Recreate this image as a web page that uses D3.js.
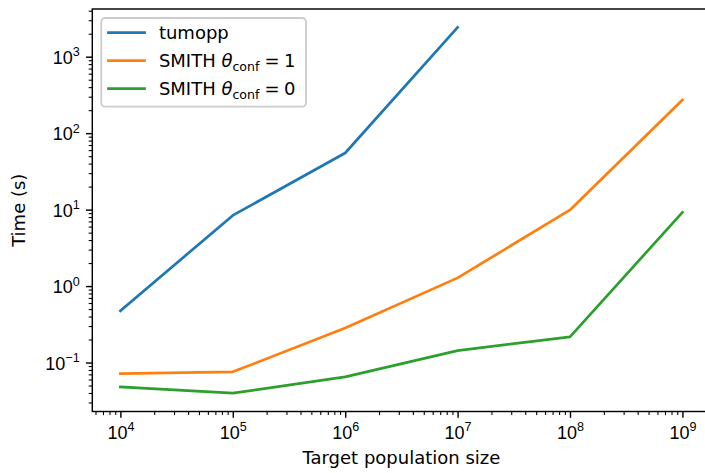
<!DOCTYPE html>
<html>
<head>
<meta charset="utf-8">
<script src="https://cdn.jsdelivr.net/npm/d3@7"></script>
<style>
  html, body { margin: 0; padding: 0; background: #fff; }
  svg { display: block; font-family: "DejaVu Sans", sans-serif; }
</style>
</head>
<body>
<svg id="chart" width="705" height="473"></svg>
<script>
// Target population sizes (x) and run times in seconds (y)
const popSizes = [1e4, 1e5, 1e6, 1e7, 1e8, 1e9];
const tumoppTimes = [0.475, 8.4, 55, 2425];
const smith1Times = [0.0718, 0.0755, 0.282, 1.28, 9.9, 272];
const smith0Times = [0.048, 0.0397, 0.065, 0.143, 0.217, 9.2];
const seriesNames = ["tumopp", "SMITH", "SMITH"];
const seriesConf = [null, "1", "0"];
const seriesColors = ["#1f77b4", "#ff7f0e", "#2ca02c"];
const xTickExps = [4, 5, 6, 7, 8, 9];
const yTickExps = [-1, 0, 1, 2, 3];

const series = [tumoppTimes, smith1Times, smith0Times].map((ys, i) => ({
  name: seriesNames[i],
  conf: seriesConf[i],
  color: seriesColors[i],
  points: ys.map((v, j) => ({ x: popSizes[j], y: v }))
}));

const svg = d3.select("#chart");
const fs = 18;            // base font size (px)
const pt = fs / 10;       // px per point
const plotLeft = 92.3, plotTop = 9, plotW = 618.2, plotBottom = 411.5;

// log-space 5% margins, like an autoscaled log axis
function logDomain(vals) {
  const l = vals.map(Math.log10);
  const lo = d3.min(l), hi = d3.max(l), m = 0.05 * (hi - lo);
  return [Math.pow(10, lo - m), Math.pow(10, hi + m)];
}
const allY = series.flatMap(s => s.points.map(p => p.y));
const x = d3.scaleLog().domain(logDomain(popSizes)).range([plotLeft, plotLeft + plotW]);
const y = d3.scaleLog().domain(logDomain(allY)).range([plotBottom, plotTop]);

function minorTicks(scale) {
  const [a, b] = scale.domain();
  const out = [];
  for (let e = Math.floor(Math.log10(a)); e <= Math.ceil(Math.log10(b)); e++) {
    for (let m = 2; m <= 9; m++) {
      const v = m * Math.pow(10, e);
      if (v >= a && v <= b) out.push(v);
    }
  }
  return out;
}

const majorLen = 3.5 * pt, minorLen = 2 * pt, tickPad = 3.5 * pt;

// x axis: minor and major ticks
const gxMinor = svg.append("g").attr("transform", `translate(0,${plotBottom})`)
  .call(d3.axisBottom(x).tickValues(minorTicks(x)).tickSize(minorLen).tickFormat(() => ""));
const gx = svg.append("g").attr("transform", `translate(0,${plotBottom})`)
  .call(d3.axisBottom(x).tickValues(xTickExps.map(e => Math.pow(10, e)))
    .tickSize(majorLen).tickPadding(tickPad).tickFormat(() => ""));

// y axis: minor and major ticks
const gyMinor = svg.append("g").attr("transform", `translate(${plotLeft},0)`)
  .call(d3.axisLeft(y).tickValues(minorTicks(y)).tickSize(minorLen).tickFormat(() => ""));
const gy = svg.append("g").attr("transform", `translate(${plotLeft},0)`)
  .call(d3.axisLeft(y).tickValues(yTickExps.map(e => Math.pow(10, e)))
    .tickSize(majorLen).tickPadding(tickPad).tickFormat(() => ""));

[gxMinor, gx, gyMinor, gy].forEach(g => {
  g.select(".domain").remove();
  g.selectAll(".tick line").attr("stroke", "#000");
});
[gxMinor, gyMinor].forEach(g => g.selectAll(".tick line").attr("stroke-width", 0.6 * pt));
[gx, gy].forEach(g => g.selectAll(".tick line").attr("stroke-width", 0.8 * pt));

// power-of-ten labels with superscript exponent
function powerLabel(textSel, exp) {
  textSel.text(null).attr("fill", "#000").attr("font-size", fs);
  textSel.append("tspan").text("10");
  textSel.append("tspan").attr("font-size", fs * 0.7).attr("dy", -7.5)
    .text(exp < 0 ? "\u2212" + Math.abs(exp) : String(exp));
}
gx.selectAll(".tick text").each(function(d) {
  const t = d3.select(this).attr("dy", null).attr("y", 438.7 - plotBottom)
    .attr("text-anchor", "middle");
  powerLabel(t, Math.round(Math.log10(d)));
});
gy.selectAll(".tick text").each(function(d) {
  const t = d3.select(this).attr("dy", null).attr("y", 6.6)
    .attr("x", -(majorLen + tickPad)).attr("text-anchor", "end");
  powerLabel(t, Math.round(Math.log10(d)));
});

// data lines
const line = d3.line().x(d => x(d.x)).y(d => y(d.y));
svg.append("clipPath").attr("id", "plotclip").append("rect")
  .attr("x", plotLeft).attr("y", plotTop).attr("width", plotW).attr("height", plotBottom - plotTop);
svg.append("g").attr("clip-path", "url(#plotclip)")
  .selectAll("path").data(series).join("path")
  .attr("d", d => line(d.points))
  .attr("fill", "none")
  .attr("stroke", d => d.color)
  .attr("stroke-width", 1.5 * pt)
  .attr("stroke-linecap", "square")
  .attr("stroke-linejoin", "round");

// frame
svg.append("rect")
  .attr("x", plotLeft).attr("y", plotTop).attr("width", plotW).attr("height", plotBottom - plotTop)
  .attr("fill", "none").attr("stroke", "#000").attr("stroke-width", 0.8 * pt);

// axis titles
svg.append("text").attr("x", plotLeft + plotW / 2).attr("y", 464)
  .attr("text-anchor", "middle").attr("font-size", fs).attr("fill", "#000")
  .text("Target population size");
svg.append("text")
  .attr("transform", `translate(24.6,${(plotTop + plotBottom) / 2}) rotate(-90)`)
  .attr("text-anchor", "middle").attr("font-size", fs).attr("fill", "#000")
  .text("Time (s)");

// legend
const lg = svg.append("g");
const lgX = plotLeft + 0.5 * fs, lgY = plotTop + 0.5 * fs;
lg.append("rect")
  .attr("x", lgX).attr("y", lgY)
  .attr("width", 306 - lgX).attr("height", 106.7 - lgY)
  .attr("rx", 4).attr("ry", 4)
  .attr("fill", "#fff").attr("fill-opacity", 0.8)
  .attr("stroke", "#cccccc").attr("stroke-width", 1 * pt);
const rowY = [32.7, 60.7, 88.7];
const hx0 = lgX + 0.4 * fs, hx1 = hx0 + 2 * fs, tx = hx1 + 0.8 * fs;
series.forEach((s, i) => {
  lg.append("line")
    .attr("x1", hx0).attr("x2", hx1).attr("y1", rowY[i]).attr("y2", rowY[i])
    .attr("stroke", s.color).attr("stroke-width", 1.5 * pt).attr("stroke-linecap", "square");
  const t = lg.append("text").attr("x", tx).attr("y", rowY[i] + 6.6)
    .attr("font-size", fs).attr("fill", "#000");
  if (s.conf === null) {
    t.text(s.name);
  } else {
    t.append("tspan").text(s.name + " ");
    t.append("tspan").attr("font-style", "italic").text("\u03b8");
    t.append("tspan").attr("font-size", fs * 0.7).attr("dy", 3.6).text("conf");
    t.append("tspan").attr("dy", -3.6).attr("dx", 5).text("=");
    t.append("tspan").attr("dx", 4.5).text(s.conf);
  }
});
</script>
</body>
</html>
